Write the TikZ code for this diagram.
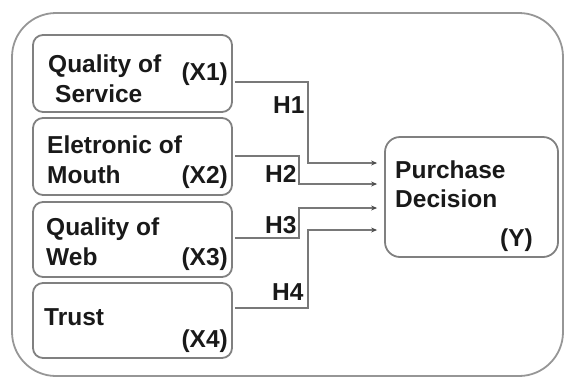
\documentclass[tikz,border=0pt]{standalone}
\usepackage{fontspec}
\setmainfont{Liberation Sans}
\usetikzlibrary{arrows.meta}
\definecolor{boxgray}{RGB}{128,128,128}
\definecolor{linegray}{RGB}{120,120,120}
\definecolor{outergray}{RGB}{150,150,150}
\definecolor{txt}{RGB}{25,25,25}
\begin{document}
\begin{tikzpicture}[x=1pt,y=-1pt,
  box/.style={draw=boxgray,line width=1.8pt,rounded corners=10pt,inner sep=0pt},
  lbl/.style={font=\fontsize{24.5}{28}\selectfont\bfseries,text=txt,inner sep=0pt,anchor=base west},
  lblr/.style={lbl,anchor=base east},
  conn/.style={draw=linegray,line width=2pt,shorten <=2pt,shorten >=7pt,
    -{Stealth[length=6pt,width=5pt,color=black!70]}}]
\useasboundingbox (0,0) rectangle (564,378);
\draw[draw=outergray,line width=1.8pt,rounded corners=44pt] (12,13) rectangle (563,376);

% left boxes
\node[box,minimum width=199pt,minimum height=77pt] (b1) at (132.5,73.5) {};
\node[box,minimum width=199pt,minimum height=77pt] (b2) at (132.5,156.5) {};
\node[box,minimum width=199pt,minimum height=75pt] (b3) at (132.5,239.5) {};
\node[box,minimum width=199pt,minimum height=75pt] (b4) at (132.5,320.5) {};
% target box
\node[box,rounded corners=15pt,minimum width=173pt,minimum height=120pt] (pd) at (471.5,197) {};

% texts
\node[lbl] (t1a) at (48,72) {Quality of};
\node[lbl] (t1b) at (55,102) {Service};
\node[lblr] (t1c) at (228,80) {(X1)};
\node[lbl] (t2a) at (47,153) {Eletronic of};
\node[lbl] (t2b) at (47,183) {Mouth};
\node[lblr] (t2c) at (228,183) {(X2)};
\node[lbl] (t3a) at (46,235) {Quality of};
\node[lbl] (t3b) at (46,265) {Web};
\node[lblr] (t3c) at (228,265) {(X3)};
\node[lbl] (t4a) at (44,325) {Trust};
\node[lblr] (t4c) at (228,347) {(X4)};
\node[lbl] (p1) at (395,178) {Purchase};
\node[lbl] (p2) at (395,207) {Decision};
\node[lblr] (p3) at (533,246) {(Y)};

% connectors
\draw[conn] (b1.east |- 0,82) -| (308,163) -- (pd.west |- 0,163);
\draw[conn] (b2.east |- 0,156) -| (299,184) -- (pd.west |- 0,184);
\draw[conn] (b3.east |- 0,238) -| (299,208) -- (pd.west |- 0,208);
\draw[conn] (b4.east |- 0,308) -| (308,230) -- (pd.west |- 0,230);

% hypothesis labels
\node[lbl] (h1) at (273,113) {H1};
\node[lbl] (h2) at (265,182) {H2};
\node[lbl] (h3) at (265,233) {H3};
\node[lbl] (h4) at (272,300) {H4};
\end{tikzpicture}
\end{document}
